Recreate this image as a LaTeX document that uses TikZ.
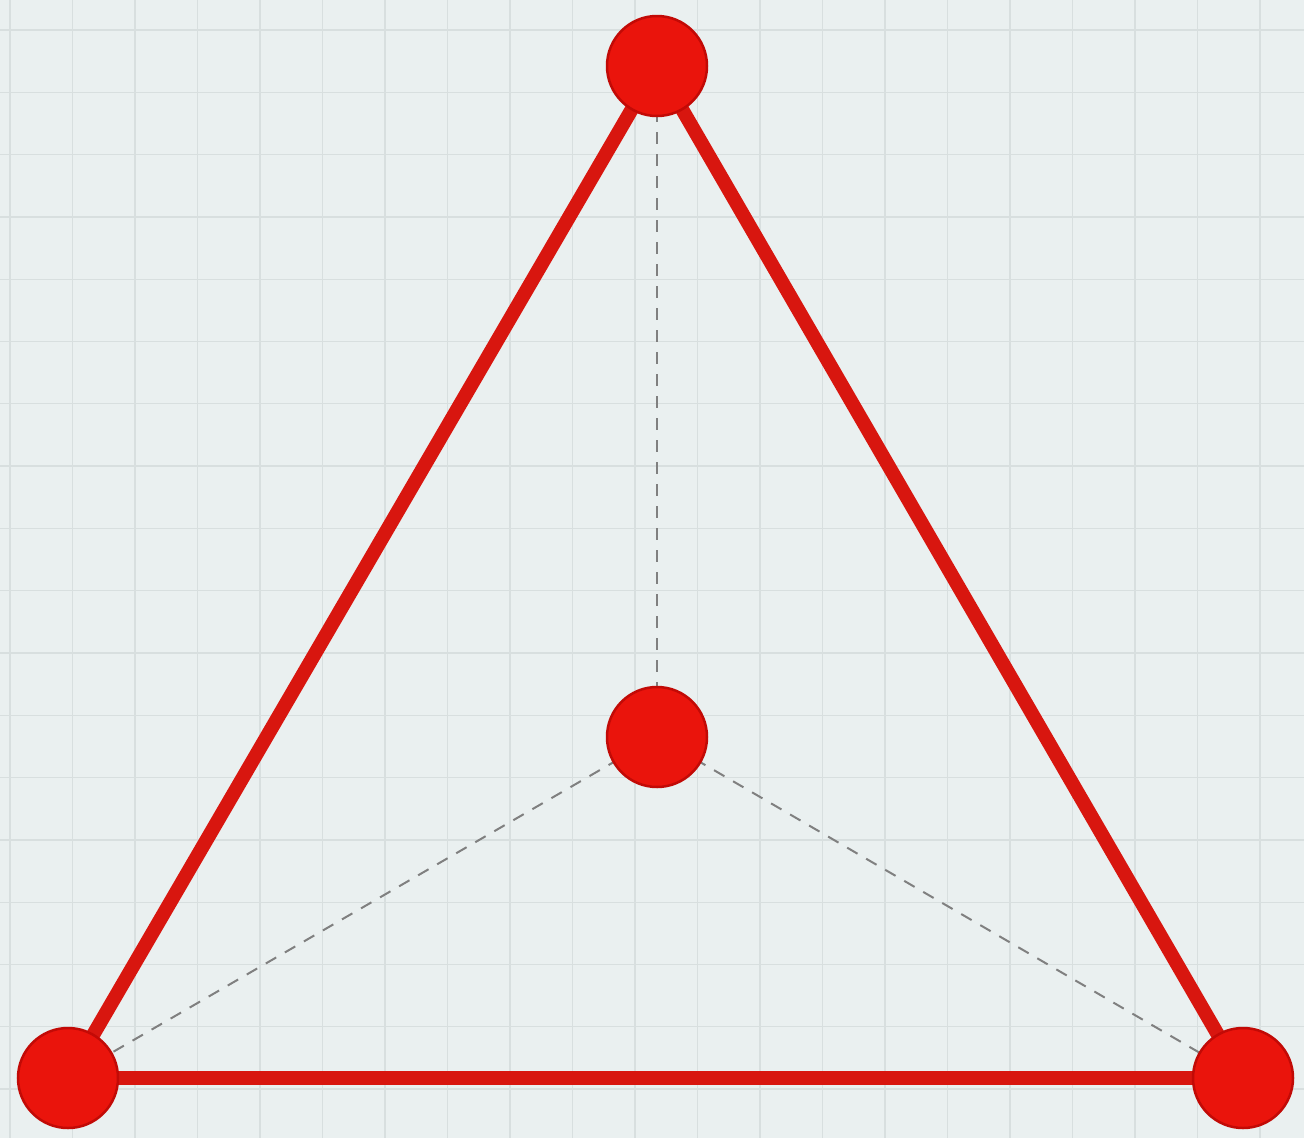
\documentclass[tikz,border=0pt]{standalone}
\begin{document}
\begin{tikzpicture}[x=1pt,y=-1pt,
  vertex/.style={circle,minimum size=100pt,inner sep=0pt,fill=vred,draw=vdark,line width=2.5pt},
  edge/.style={draw=ered,line width=14pt},
  hidden/.style={draw=black!50,line width=2pt,dash pattern=on 12pt off 10pt}]
\definecolor{bg}{HTML}{EAF0F0}
\definecolor{gridc}{HTML}{D8DFDF}
\definecolor{vred}{HTML}{EA140C}
\definecolor{vdark}{HTML}{C20A06}
\definecolor{ered}{HTML}{D8160F}
\fill[bg] (0,0) rectangle (1304,1138);
\useasboundingbox (0,0) rectangle (1304,1138);
\foreach \i in {0,...,20} {
  \draw[gridc,line width=1.3pt] ({10+62.5*\i},0) -- ({10+62.5*\i},1138);
}
\foreach \j in {0,...,17} {
  \draw[gridc,line width=1.3pt] (0,{30+62.3*\j}) -- (1304,{30+62.3*\j});
}
\coordinate (T) at (657,66);
\coordinate (C) at (657,737);
\coordinate (L) at (68,1078);
\coordinate (R) at (1243,1078);
\draw[hidden] (T) -- (C);
\draw[hidden] (C) -- (L);
\draw[hidden] (C) -- (R);
\draw[edge] (T) -- (L);
\draw[edge] (T) -- (R);
\draw[edge] (L) -- (R);
\node[vertex] (t) at (T) {};
\node[vertex] (c) at (C) {};
\node[vertex] (l) at (L) {};
\node[vertex] (r) at (R) {};
\end{tikzpicture}
\end{document}
